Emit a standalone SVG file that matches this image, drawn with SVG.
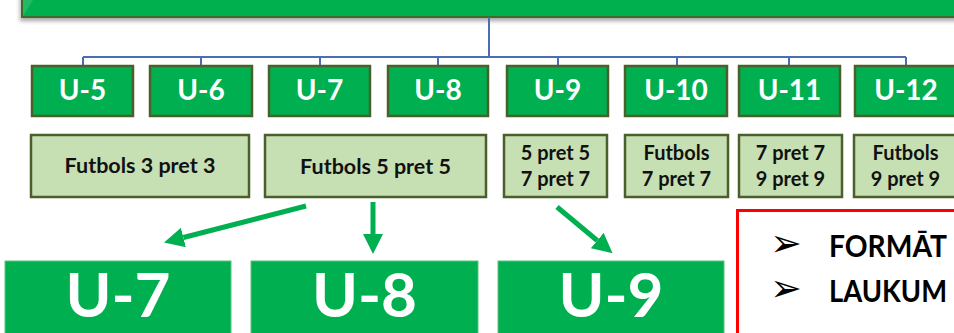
<svg xmlns="http://www.w3.org/2000/svg" width="954" height="333" viewBox="0 0 954 333">
<defs>
<style>
.age{fill:#00B050;stroke:#4A5F2A;stroke-width:2.5}
.fmt{fill:#C6E0B4;stroke:#4A5F2A;stroke-width:2.5}
.big{fill:#00B050;stroke:#5FC27F;stroke-width:1}
.tw{font-family:Lato,"Open Sans",sans-serif;font-weight:bold;fill:#FFFFFF;text-anchor:middle}
.tb{font-family:Lato,"Open Sans",sans-serif;font-weight:bold;fill:#111111;text-anchor:middle}
.conn{stroke:#4A6DB5;stroke-width:2;fill:none}
.arr{stroke:#00B050;stroke-width:5;fill:none;marker-end:url(#ah)}
.bul{font-family:"DejaVu Sans",sans-serif;font-size:38px;fill:#000}
.inf{font-family:Lato,"Open Sans",sans-serif;font-weight:bold;font-size:31px;fill:#000}
</style>
<marker id="ah" markerUnits="userSpaceOnUse" markerWidth="20" markerHeight="20" viewBox="0 0 18 18" refX="0" refY="9" orient="auto">
<path d="M0,0 L18,9 L0,18 z" fill="#00B050"/>
</marker>
<filter id="sh" x="-5%" y="-50%" width="110%" height="200%">
<feDropShadow dx="-1" dy="3" stdDeviation="2" flood-color="#000" flood-opacity="0.35"/>
</filter>
</defs>

<g id="top">
<rect x="22" y="-12" width="950" height="29" fill="#00B050" stroke="#3F6B2A" stroke-width="2" filter="url(#sh)"/>
<polygon points="23,-11 40,-11 23,16" fill="#3CC073" opacity="0.6"/>
</g>

<g id="connectors">
<path class="conn" d="M489,17 V57 M83,57 H906 M83,57 V66 M201,57 V66 M320,57 V66 M438,57 V66 M558,57 V66 M677,57 V66 M789,57 V66 M906,57 V66"/>
<line class="arr" x1="306" y1="206" x2="183.4" y2="237.5"/>
<line class="arr" x1="373" y1="202" x2="373" y2="234"/>
<line class="arr" x1="557" y1="207" x2="597.2" y2="240.5"/>
</g>

<g id="u5"><rect class="age" x="32" y="66" width="101" height="50"/><text class="tw" x="82.5" y="100" font-size="28">U-5</text></g>
<g id="u6"><rect class="age" x="150" y="66" width="102" height="50"/><text class="tw" x="201" y="100" font-size="28">U-6</text></g>
<g id="u7"><rect class="age" x="269" y="66" width="101" height="50"/><text class="tw" x="319.5" y="100" font-size="28">U-7</text></g>
<g id="u8"><rect class="age" x="388" y="66" width="100" height="50"/><text class="tw" x="438" y="100" font-size="28">U-8</text></g>
<g id="u9"><rect class="age" x="507" y="66" width="101" height="50"/><text class="tw" x="557.5" y="100" font-size="28">U-9</text></g>
<g id="u10"><rect class="age" x="625" y="66" width="102" height="50"/><text class="tw" x="676" y="100" font-size="28">U-10</text></g>
<g id="u11"><rect class="age" x="739" y="66" width="101" height="50"/><text class="tw" x="789.5" y="100" font-size="28">U-11</text></g>
<g id="u12"><rect class="age" x="855" y="66" width="102" height="50"/><text class="tw" x="906" y="100" font-size="28">U-12</text></g>

<g id="f33"><rect class="fmt" x="31" y="135" width="218" height="62"/><text class="tb" x="140" y="173" font-size="21.5">Futbols 3 pret 3</text></g>
<g id="f55"><rect class="fmt" x="265" y="135" width="221" height="62"/><text class="tb" x="375.5" y="174" font-size="21.5">Futbols 5 pret 5</text></g>
<g id="f9"><rect class="fmt" x="504" y="135" width="103" height="62"/><text class="tb" x="555.5" y="160" font-size="20">5 pret 5</text><text class="tb" x="555.5" y="186" font-size="20">7 pret 7</text></g>
<g id="f10"><rect class="fmt" x="625" y="135" width="103" height="62"/><text class="tb" x="676.5" y="160" font-size="20">Futbols</text><text class="tb" x="676.5" y="186" font-size="20">7 pret 7</text></g>
<g id="f11"><rect class="fmt" x="739" y="135" width="103" height="62"/><text class="tb" x="790.5" y="160" font-size="20">7 pret 7</text><text class="tb" x="790.5" y="186" font-size="20">9 pret 9</text></g>
<g id="f12"><rect class="fmt" x="854" y="135" width="103" height="62"/><text class="tb" x="905.5" y="160" font-size="20">Futbols</text><text class="tb" x="905.5" y="186" font-size="20">9 pret 9</text></g>

<g id="bu7"><rect class="big" x="5" y="261" width="226" height="80"/><text class="tw" x="118" y="317" font-size="62">U-7</text></g>
<g id="bu8"><rect class="big" x="251" y="261" width="227" height="80"/><text class="tw" x="364.5" y="317" font-size="62">U-8</text></g>
<g id="bu9"><rect class="big" x="498" y="261" width="226" height="80"/><text class="tw" x="611" y="317" font-size="62">U-9</text></g>

<g id="info">
<rect x="737.5" y="210.5" width="240" height="140" fill="#FFFFFF" stroke="#FF0000" stroke-width="3"/>
<text class="bul" x="770" y="256">➢</text>
<text class="bul" x="770" y="301">➢</text>
<text class="inf" x="829" y="257" textLength="118" lengthAdjust="spacingAndGlyphs">FORMĀT</text>
<text class="inf" x="829" y="302" textLength="118" lengthAdjust="spacingAndGlyphs">LAUKUM</text>
</g>
</svg>
